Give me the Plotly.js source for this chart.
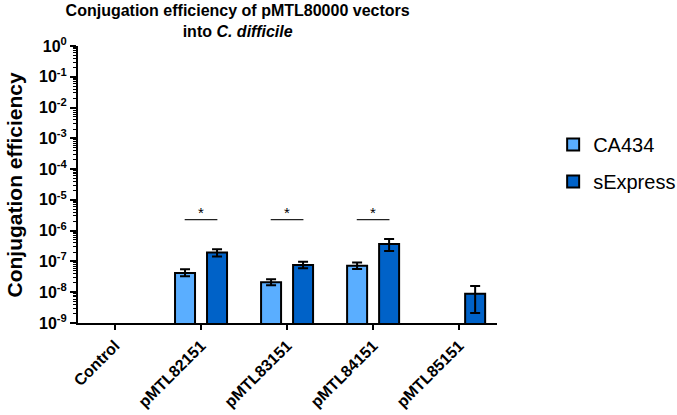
<!DOCTYPE html>
<html><head><meta charset="utf-8">
<script src="https://cdn.plot.ly/plotly-3.0.1.min.js"></script>
<style>body{margin:0}#chart{width:677px;height:415px}</style>
</head><body><div id="chart"></div>
<script>
const categories = ['Control','pMTL82151','pMTL83151','pMTL84151','pMTL85151'];
const ca434 = [null, 4.2e-8, 2.1e-8, 7.2e-8, null];
const ca434ErrPlus = [null, 1.4e-8, 0.55e-8, 2.1e-8, null];
const ca434ErrMinus = [null, 0.9e-8, 0.4e-8, 1.5e-8, null];
const sExpress = [null, 1.95e-7, 7.6e-8, 3.7e-7, 8.9e-9];
const sExpressErrPlus = [null, 0.55e-7, 2.1e-8, 1.7e-7, 0.71e-8];
const sExpressErrMinus = [null, 0.5e-7, 1.6e-8, 1.5e-7, 0.68e-8];
const sigGroups = [1, 2, 3];
const yTitle = 'Conjugation efficiency';
const yTickVals = [1e0,1e-1,1e-2,1e-3,1e-4,1e-5,1e-6,1e-7,1e-8,1e-9];
const yTickText = ['10<sup>0</sup>','10<sup>-1</sup>','10<sup>-2</sup>','10<sup>-3</sup>','10<sup>-4</sup>','10<sup>-5</sup>','10<sup>-6</sup>','10<sup>-7</sup>','10<sup>-8</sup>','10<sup>-9</sup>'];

const minorVals = [];
for (let e = -9; e < 0; e++) for (let m = 2; m <= 9; m++) minorVals.push(m * Math.pow(10, e));

const ff = 'Liberation Sans, Arial, sans-serif';
const traces = [
  {type:'bar', name:'CA434', legendgroup:'a', x:categories, y:ca434,
   marker:{color:'#5AAEFF', line:{color:'#000', width:2}},
   error_y:{type:'data', array:ca434ErrPlus, arrayminus:ca434ErrMinus, color:'#000', thickness:2, width:5}},
  {type:'bar', name:'sExpress', legendgroup:'b', x:categories, y:sExpress,
   marker:{color:'#0062C8', line:{color:'#000', width:2}},
   error_y:{type:'data', array:sExpressErrPlus, arrayminus:sExpressErrMinus, color:'#000', thickness:2, width:5}}
];

const shapes = [], annotations = [];
sigGroups.forEach(g => {
  shapes.push({type:'line', xref:'x', yref:'paper', x0:g-0.19, x1:g+0.19, y0:0.373, y1:0.373, line:{color:'#222', width:1.3}});
  annotations.push({xref:'x', yref:'paper', x:g, y:0.373, yanchor:'bottom', text:'*', showarrow:false, font:{family:ff, size:15, color:'#000'}, yshift:-3});
});
annotations.push({xref:'paper', yref:'paper', x:-0.1527, y:0.5, xanchor:'center', yanchor:'middle', textangle:-90,
  text:'<b>' + yTitle + '</b>', showarrow:false, font:{family:ff, size:21, color:'#000'}});

const layout = {
  width:677, height:415,
  margin:{l:78, r:180, t:46, b:92, autoexpand:false},
  paper_bgcolor:'#fff', plot_bgcolor:'#fff',
  font:{family:ff, color:'#000'},
  title:{text:'<b>Conjugation efficiency of pMTL80000 vectors<br>into <i>C. difficile</i></b>',
    font:{family:ff, size:16, color:'#000'}, x:0.351, xref:'container', xanchor:'center',
    y:0.962, yref:'container', yanchor:'top'},
  barmode:'group', bargap:0.256, bargroupgap:0.375,
  xaxis:{type:'category', range:[-0.43, 4.44], showline:true, linecolor:'#000', linewidth:2,
    ticks:'outside', ticklen:5, tickwidth:2, tickcolor:'#000', tickangle:-45, automargin:false,
    tickfont:{family:ff, size:16, color:'#000', weight:'bold'}, showgrid:false, zeroline:false, fixedrange:true},
  yaxis:{type:'log', range:[-9, 0], showline:true, linecolor:'#000', linewidth:2, automargin:false,
    ticks:'outside', ticklen:6, tickwidth:2, tickcolor:'#000',
    tickvals:yTickVals, ticktext:yTickText,
    tickfont:{family:ff, size:16, color:'#000', weight:'bold'},
    minor:{tickvals:minorVals, ticks:'outside', ticklen:3, tickwidth:1, tickcolor:'#000', showgrid:false},
    showgrid:false, zeroline:false},
  legend:{x:1.134, xanchor:'left', y:0.715, yanchor:'top', font:{family:ff, size:20, color:'#000'},
    tracegroupgap:8, itemwidth:30, bgcolor:'rgba(0,0,0,0)'},
  shapes:shapes, annotations:annotations, showlegend:true
};
Plotly.newPlot('chart', traces, layout, {displayModeBar:false, staticPlot:true});
</script></body></html>
